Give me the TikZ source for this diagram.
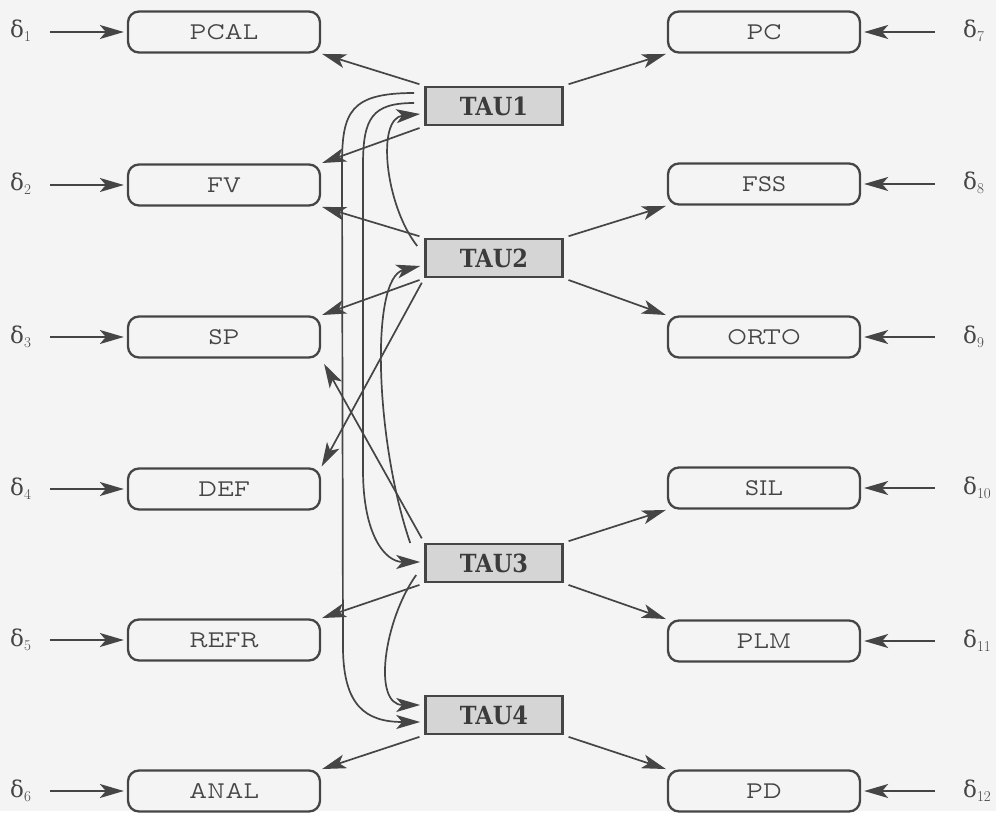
\documentclass[tikz,border=0pt]{standalone}
\usepackage{fontspec}
\usetikzlibrary{arrows.meta,calc}
\newfontfamily\labelfont{Latin Modern Mono Prop}
\newfontfamily\taufont{DejaVu Serif Condensed}
\newfontfamily\greekfont{DejaVu Serif}
\definecolor{ink}{HTML}{454545}
\definecolor{paper}{HTML}{F3F4F3}
\definecolor{taufill}{HTML}{D5D5D5}
% delta label with a lowered index
\newcommand\dsub[1]{δ\raisebox{-4pt}{\rmfamily\fontsize{15}{15}\selectfont#1}}

\tikzset{
  state/.style={draw=ink, line width=2.3pt, rounded corners=11pt,
    minimum width=192pt, minimum height=41pt, inner sep=0pt, text=ink,
    font=\labelfont\fontsize{24}{26}\selectfont},
  tau/.style={draw=ink, fill=taufill, line width=2.6pt,
    minimum width=137pt, minimum height=38pt, inner sep=0pt, text=ink!85!black,
    font=\taufont\bfseries\fontsize{25}{26}\selectfont},
  dlabel/.style={inner sep=0pt, text=ink,
    font=\greekfont\fontsize{23}{23}\selectfont},
  link/.style={draw=ink, line width=1.7pt,
    -{Stealth[length=24pt,width=14pt,inset=6pt]}},
  tolink/.style={link, shorten <=5pt, shorten >=1pt},
  dlink/.style={link, shorten >=3pt},
}

\begin{document}
\begin{tikzpicture}[x=1pt,y=-1pt]
\fill[paper] (0,0) rectangle (996,811);

% left column of state boxes
\node[state] (pcal) at (224,32)  {PCAL};
\node[state] (fv)   at (224,185) {FV};
\node[state] (sp)   at (224,337) {SP};
\node[state] (def)  at (224,489) {DEF};
\node[state] (refr) at (224,640) {REFR};
\node[state] (anal) at (224,791) {ANAL};

% right column of state boxes
\node[state] (pc)   at (764,32)  {PC};
\node[state] (fss)  at (764,184) {FSS};
\node[state] (orto) at (764,337) {ORTO};
\node[state] (sil)  at (764,488) {SIL};
\node[state] (plm)  at (764,641) {PLM};
\node[state] (pd)   at (764,791) {PD};

% central TAU blocks
\node[tau] (t1) at (494,106) {TAU1};
\node[tau] (t2) at (494,258) {TAU2};
\node[tau] (t3) at (494,563) {TAU3};
\node[tau] (t4) at (494,715) {TAU4};

% disturbance inputs
\node[dlabel, anchor=base west] (d1) at (10,38)  {\dsub{1}};
\node[dlabel, anchor=base west] (d2) at (10,191) {\dsub{2}};
\node[dlabel, anchor=base west] (d3) at (10,343) {\dsub{3}};
\node[dlabel, anchor=base west] (d4) at (10,495) {\dsub{4}};
\node[dlabel, anchor=base west] (d5) at (10,646) {\dsub{5}};
\node[dlabel, anchor=base west] (d6) at (10,797) {\dsub{6}};
\node[dlabel, anchor=base west] (d7)  at (963,38)  {\dsub{7}};
\node[dlabel, anchor=base west] (d8)  at (963,190) {\dsub{8}};
\node[dlabel, anchor=base west] (d9)  at (963,343) {\dsub{9}};
\node[dlabel, anchor=base west] (d10) at (963,494) {\dsub{10}};
\node[dlabel, anchor=base west] (d11) at (963,647) {\dsub{11}};
\node[dlabel, anchor=base west] (d12) at (963,797) {\dsub{12}};

\foreach \d/\b in {d1/pcal,d2/fv,d3/sp,d4/def,d5/refr,d6/anal}
  \draw[dlink, shorten <=19pt] (\d.east |- \b.west) -- (\b.west);
\foreach \d/\b in {d7/pc,d8/fss,d9/orto,d10/sil,d11/plm,d12/pd}
  \draw[dlink, shorten <=28pt] (\d.west |- \b.east) -- (\b.east);

% TAU outputs to the states
\draw[tolink] (t1.north west) -- (pcal.south east);
\draw[tolink] (t1.north east) -- (pc.south west);
\draw[tolink] (t1.south west) -- (fv.north east);
\draw[tolink] (t2.north west) -- (fv.south east);
\draw[tolink] (t2.north east) -- (fss.south west);
\draw[tolink] (t2.south east) -- (orto.north west);
\draw[tolink] (t2.south west) -- (sp.north east);
\draw[tolink] (t2.south west) -- (def.north east);
\draw[tolink, shorten >=6pt] (t3.north west) -- (sp.south east);
\draw[tolink] (t3.north east) -- (sil.south west);
\draw[tolink] (t3.south east) -- (plm.north west);
\draw[tolink] (t3.south west) -- (refr.north east);
\draw[tolink] (t4.south west) -- (anal.north east);
\draw[tolink] (t4.south east) -- (pd.north west);

% couplings between the TAU blocks
\draw[link] ($(t1.west)+(-10,-13)$) .. controls (350,93) and (342,112) .. (342,165)
  -- (343,650) .. controls (344,705) and (365,722) .. ($(t4.west)+(-4,7)$);
\draw[link] ($(t1.west)+(-10,-3)$) .. controls (372,103) and (363,118) .. (363,165)
  -- (363,470) .. controls (363,535) and (385,562) .. ($(t3.west)+(-4,-1)$);
\draw[link] ($(t2.west)+(-7,-12)$) .. controls (385,205) and (376,118) .. ($(t1.west)+(-4,8)$);
\draw[link] ($(t3.west)+(-14,-20)$) .. controls (375,440) and (370,278) .. ($(t2.west)+(-4,8)$);
\draw[link] ($(t3.west)+(-8,12)$) .. controls (384,620) and (372,705) .. ($(t4.west)+(-4,-10)$);
\end{tikzpicture}
\end{document}
